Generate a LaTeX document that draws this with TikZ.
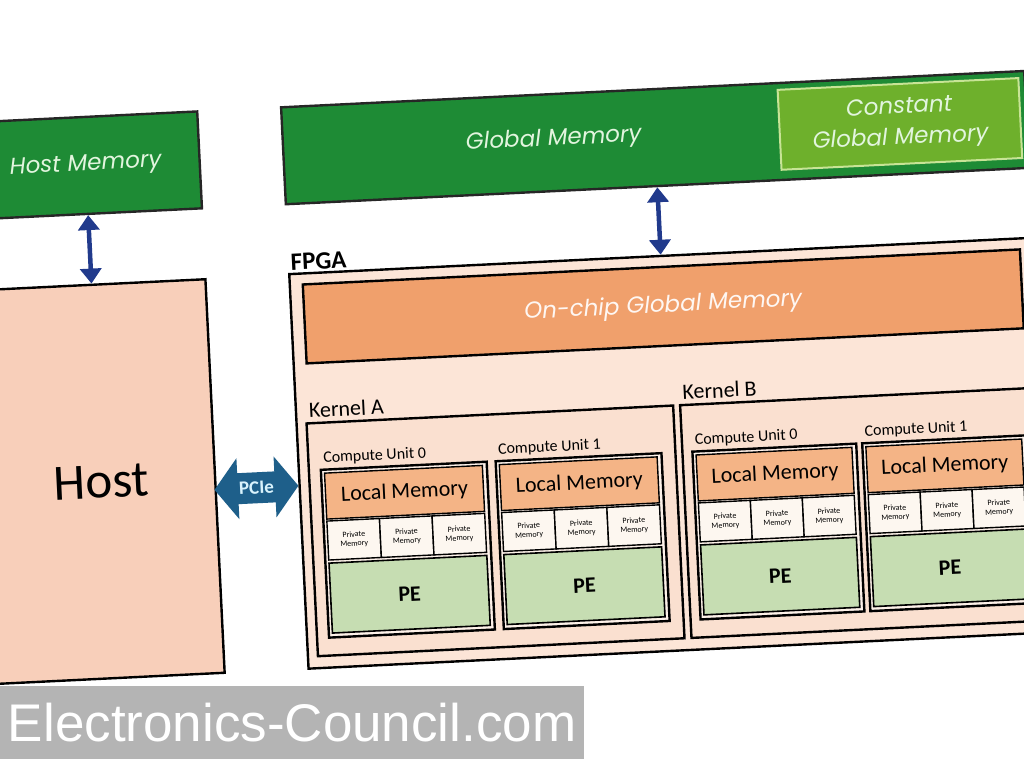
\documentclass[tikz,border=0pt]{standalone}
\usepackage{fontspec}
\setmainfont{Carlito}
\newfontfamily\memfont{Poppins}
\newfontfamily\wmfont{Liberation Sans}
\usetikzlibrary{arrows.meta,shapes.arrows}

\definecolor{gmgreen}{RGB}{30,139,53}
\definecolor{cgreen}{RGB}{110,176,44}
\definecolor{cedge}{RGB}{200,228,150}
\definecolor{memtext}{RGB}{226,245,222}
\definecolor{hostfill}{RGB}{248,207,186}
\definecolor{fpgafill}{RGB}{252,229,215}
\definecolor{kfill}{RGB}{250,224,208}
\definecolor{cufill}{RGB}{253,241,233}
\definecolor{onchipfill}{RGB}{240,160,108}
\definecolor{lmfill}{RGB}{244,180,134}
\definecolor{pefill}{RGB}{198,221,178}
\definecolor{pmfill}{RGB}{253,247,240}
\definecolor{pciefill}{RGB}{30,95,138}
\definecolor{arblue}{RGB}{33,58,140}
\definecolor{wmgray}{RGB}{180,180,180}

\begin{document}
\begin{tikzpicture}[
  x=1pt,y=-1pt,
  box/.style={draw,line width=2.4pt,anchor=north west,inner sep=0pt},
  mem/.style={box,fill=gmgreen,draw=black!85},
  memtxt/.style={font=\memfont\itshape\fontsize{23}{31}\selectfont,text=memtext,align=center},
  lbl/.style={anchor=south west,inner sep=0pt,font=\fontsize{22}{26}\selectfont},
  culbl/.style={anchor=south west,inner sep=0pt,font=\fontsize{16}{19}\selectfont},
  lmem/.style={box,fill=lmfill,line width=1.4pt,minimum height=46,font=\fontsize{22}{26}\selectfont},
  pmem/.style={box,fill=pmfill,line width=1.4pt,minimum height=39,align=center,
               font=\fontsize{8}{9}\selectfont},
  pe/.style={box,fill=pefill,line width=1.6pt,minimum height=70,font=\bfseries\fontsize{22}{26}\selectfont},
  pcie/.style={shape=double arrow,fill=pciefill,text=white!85!cyan,inner xsep=1pt,inner ysep=9pt,
               minimum height=84,double arrow head extend=15pt,double arrow tip angle=105,
               font=\bfseries\fontsize{19}{22}\selectfont},
  dbl/.style={{Triangle[length=15pt,width=21pt]}-{Triangle[length=15pt,width=21pt]},
              line width=4.5pt,draw=arblue}]

\useasboundingbox (0,0) rectangle (1024,767);
\clip (0,0) rectangle (1024,767);
\fill[white] (0,0) rectangle (1024,767);

\begin{scope}[rotate around={2.8:(288,273)},transform shape]
% host side
\node[mem,memtxt,minimum width=228,minimum height=97] (hmem) at (-24,106) {Host Memory};
\node[box,fill=hostfill,minimum width=228,minimum height=394,
      font=\fontsize{51}{60}\selectfont] (host) at (-24,274) {Host};
\draw[dbl] (hmem) -- (host);

% global memory
\node[mem,minimum width=744,minimum height=97] (gm) at (288,106) {};
\node[memtxt] (gmtxt) at (560,153) {Global Memory};
\node[box,memtxt,fill=cgreen,draw=cedge,line width=2pt,minimum width=241,minimum height=80] (cgm)
  at (785,113) {Constant\\Global Memory};

% fpga
\node[box,fill=fpgafill,minimum width=744,minimum height=395] (fpga) at (288,273) {};
\node[lbl,font=\bfseries\fontsize{25}{28}\selectfont] (fpgalbl) at (291,271) {FPGA};
\draw[dbl] (gm) -- (fpga);
\node[box,memtxt,text=white!92!onchipfill,fill=onchipfill,minimum width=718,minimum height=79] (onchip)
  at (301,284) {On-chip Global Memory};

\foreach \k/\x/\w in {A/298/367,B/672/356} {
  \node[box,fill=kfill,minimum width=\w,minimum height=233] (k\k) at (\x,423) {};
  \node[lbl] (kl\k) at (\x+4,419) {Kernel \k};
}

\foreach \c/\x/\w/\t in {a0/310/166/0,a1/485/166/1,b0/682/164/0,b1/852/164/1} {
  \pgfmathsetmacro\iw{\w-8}
  \pgfmathsetmacro\cw{(\w-8)/3}
  \node[box,fill=cufill,minimum width=\w,minimum height=168] (cu\c) at (\x,470) {};
  \node[culbl] (cul\c) at (\x+4,467) {Compute Unit \t};
  \node[lmem,minimum width=\iw] (lm\c) at (\x+4,474) {Local Memory};
  \foreach \j in {0,1,2}
    \node[pmem,minimum width=\cw] (pm\c\j) at (\x+4+\j*\cw,522) {Private\\Memory};
  \node[pe,minimum width=\iw] (pe\c) at (\x+4,564) {PE};
}

\node[pcie] (pcie) at (246,486) {PCIe};
\end{scope}

\node[fill=wmgray,anchor=north west,minimum width=584,minimum height=73,inner sep=0pt,
      font=\wmfont\fontsize{53}{60}\selectfont,text=white] (wm) at (0,686) {Electronics-Council.com};
\end{tikzpicture}
\end{document}
